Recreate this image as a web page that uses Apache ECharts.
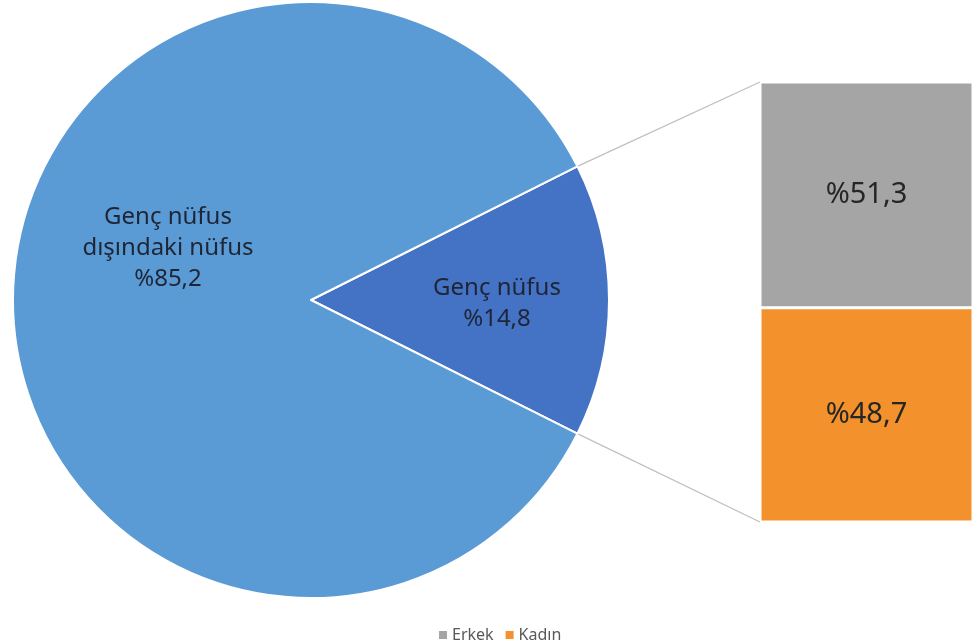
<!DOCTYPE html>
<html>
<head>
<meta charset="utf-8">
<script src="https://cdn.jsdelivr.net/npm/echarts@6/dist/echarts.min.js"></script>
<style>
  html, body { margin: 0; padding: 0; background: #fff; }
  #main { width: 973px; height: 644px; }
</style>
</head>
<body>
<div id="main"></div>
<script>
// pie: total population split
const pieNames = ['Genç nüfus', 'Genç nüfus dışındaki nüfus'];
const pieLabels = ['Genç nüfus', 'Genç nüfus\ndışındaki nüfus'];
const pieValues = [14.8, 85.2];
// bar: young population by sex (bottom to top)
const barNames = ['Kadın', 'Erkek'];
const barValues = [48.7, 51.3];
const barColors = ['#F3922C', '#A5A5A5'];

const pieCenter = [311, 300];
const pieRadius = 298;
const gridLeft = 760, gridTop = 82, gridHeight = 440, yMax = 100;
const fontFam = '"Noto Sans", "DejaVu Sans", sans-serif';

function pct(v) {
    return '%' + v.toFixed(1).replace('.', ',');
}

const chart = echarts.init(document.getElementById('main'));

// slice of interest centred on the right side
const sliceAngle = pieValues[0] / (pieValues[0] + pieValues[1]) * 360;

// connector lines from pie slice edges to bar corners
const a = sliceAngle / 2 * Math.PI / 180;
const edgeX = pieCenter[0] + pieRadius * Math.cos(a);
const edgeDy = pieRadius * Math.sin(a);
const total = barValues[0] + barValues[1];
const barTopY = gridTop + gridHeight * (1 - total / yMax);
const barBotY = gridTop + gridHeight;

const option = {
    animation: false,
    textStyle: {fontFamily: fontFam},
    legend: {
        data: ['Erkek', 'Kadın'],
        left: 434,
        top: 622,
        icon: 'rect',
        itemWidth: 8,
        itemHeight: 8,
        itemGap: 12,
        itemStyle: {borderWidth: 0},
        textStyle: {fontSize: 16, color: '#595959', fontFamily: fontFam}
    },
    grid: {left: gridLeft, top: gridTop, width: 217, height: gridHeight},
    xAxis: {type: 'category', data: ['Genç nüfus'], show: false},
    yAxis: {type: 'value', min: 0, max: yMax, show: false},
    graphic: [
        {type: 'line', shape: {x1: edgeX, y1: pieCenter[1] - edgeDy, x2: gridLeft, y2: barTopY},
            style: {stroke: '#BFBFBF', lineWidth: 1.2}},
        {type: 'line', shape: {x1: edgeX, y1: pieCenter[1] + edgeDy, x2: gridLeft, y2: barBotY},
            style: {stroke: '#BFBFBF', lineWidth: 1.2}}
    ],
    series: [
        {
            name: 'pie',
            type: 'pie',
            center: pieCenter,
            radius: pieRadius,
            startAngle: sliceAngle / 2,
            clockwise: true,
            silent: true,
            itemStyle: {borderColor: '#fff', borderWidth: 2},
            label: {
                show: true,
                position: 'inside',
                fontSize: 24,
                lineHeight: 31,
                color: '#1e2535',
                fontFamily: fontFam,
                formatter: function (p) {
                    return pieLabels[p.dataIndex] + '\n' + pct(p.value);
                }
            },
            labelLine: {show: false},
            labelLayout: function (p) {
                return p.dataIndex === 0 ? {dx: 34, dy: 4} : {dx: 9, dy: -52};
            },
            data: pieNames.map(function (n, i) {
                return {
                    name: n,
                    value: pieValues[i],
                    itemStyle: {color: i === 0 ? '#4472C4' : '#5B9BD5'}
                };
            })
        }
    ].concat(barNames.map(function (n, i) {
        return {
            name: n,
            type: 'bar',
            stack: 'sex',
            barWidth: '100%',
            data: [barValues[i]],
            itemStyle: {color: barColors[i], borderColor: '#fff', borderWidth: 1.5},
            label: {
                show: true,
                position: 'inside',
                fontSize: 29,
                color: '#262626',
                fontFamily: fontFam,
                formatter: function (p) { return pct(p.value); }
            }
        };
    }))
};
chart.setOption(option);
</script>
</body>
</html>
